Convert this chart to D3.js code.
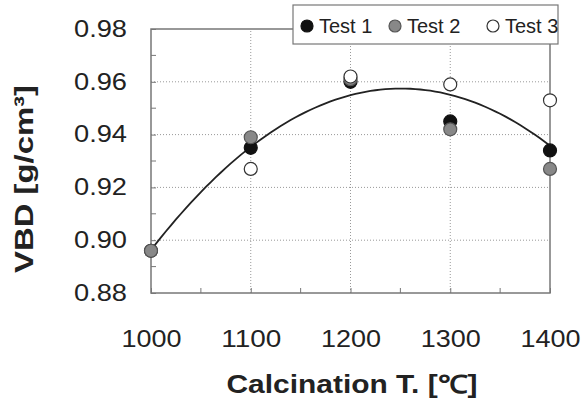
<!DOCTYPE html>
<html>
<head>
<meta charset="utf-8">
<script src="https://cdn.jsdelivr.net/npm/d3@7"></script>
<style>
  body { margin: 0; background: #fff; }
  text { font-family: "Liberation Sans", Arial, sans-serif; fill: #222; }
</style>
</head>
<body>
<div id="viz-container"></div>
<script>
// temperatures and the three test series (VBD, g/cm3)
let temps = [1000, 1100, 1200, 1300, 1400];
let test1 = [0.896, 0.935, 0.960, 0.945, 0.934];
let test2 = [0.896, 0.939, 0.961, 0.942, 0.927];
let test3 = [null, 0.927, 0.962, 0.959, 0.953];
let seriesNames = ["Test 1", "Test 2", "Test 3"];
let yTicks = [0.88, 0.90, 0.92, 0.94, 0.96, 0.98];
let yMinor = [0.89, 0.91, 0.93, 0.95, 0.97];
let xMinor = [1050, 1150, 1250, 1350];

let W = 585, H = 401;
let margin = {left: 151, right: 35, top: 29, bottom: 108};

let viz = d3.select("#viz-container")
              .append("svg")
                .attr("width", W)
                .attr("height", H)
;

let x = d3.scaleLinear().domain([1000, 1400]).range([margin.left, W - margin.right]);
let y = d3.scaleLinear().domain([0.88, 0.98]).range([H - margin.bottom, margin.top]);

// dotted grid
viz.selectAll(".vgrid").data(temps.slice(1, -1)).enter().append("line")
    .attr("x1", d => x(d)).attr("x2", d => x(d))
    .attr("y1", y(0.88)).attr("y2", y(0.98))
    .attr("stroke", "#999").attr("stroke-dasharray", "1,2");
viz.selectAll(".hgrid").data(yTicks.slice(1, -1)).enter().append("line")
    .attr("x1", x(1000)).attr("x2", x(1400))
    .attr("y1", d => y(d)).attr("y2", d => y(d))
    .attr("stroke", "#999").attr("stroke-dasharray", "1,2");

// frame
viz.append("rect")
    .attr("x", x(1000)).attr("y", y(0.98))
    .attr("width", x(1400) - x(1000)).attr("height", y(0.88) - y(0.98))
    .attr("fill", "none").attr("stroke", "#777").attr("stroke-width", 1.5);

// axes, ticks pointing in
let yAxis = viz.append("g").attr("transform", `translate(${x(1000)},0)`)
    .call(d3.axisLeft(y).tickValues(yTicks).tickFormat(d3.format(".2f")).tickSize(-5).tickPadding(24));
let xAxis = viz.append("g").attr("transform", `translate(0,${y(0.88)})`)
    .call(d3.axisBottom(x).tickValues(temps).tickFormat(d3.format("d")).tickSize(-5).tickPadding(38));
[yAxis, xAxis].forEach(a => {
  a.select(".domain").remove();
  a.selectAll("line").attr("stroke", "#777");
  a.selectAll("text").attr("font-size", 23).attr("fill", "#222")
    .attr("font-family", "Liberation Sans, Arial, sans-serif")
    .attr("lengthAdjust", "spacingAndGlyphs");
});
yAxis.selectAll("text").attr("textLength", 53);
xAxis.selectAll("text").attr("textLength", 60);

viz.selectAll(".ym").data(yMinor).enter().append("line")
    .attr("x1", x(1000)).attr("x2", x(1000) + 5)
    .attr("y1", d => y(d)).attr("y2", d => y(d)).attr("stroke", "#777");
viz.selectAll(".xm").data(xMinor).enter().append("line")
    .attr("x1", d => x(d)).attr("x2", d => x(d))
    .attr("y1", y(0.88)).attr("y2", y(0.88) - 5).attr("stroke", "#777");

// quadratic least-squares fit of all points
let pts = [];
[test1, test2, test3].forEach(s => s.forEach((v, i) => { if (v != null) pts.push([temps[i], v]); }));
function quadFit(p){
  let S = [0,0,0,0,0], T = [0,0,0];
  p.forEach(([tx, ty]) => {
    let t = (tx - 1200) / 100;
    for (let k = 0; k < 5; k++) S[k] += Math.pow(t, k);
    for (let k = 0; k < 3; k++) T[k] += ty * Math.pow(t, k);
  });
  let M = [[S[0],S[1],S[2],T[0]],[S[1],S[2],S[3],T[1]],[S[2],S[3],S[4],T[2]]];
  for (let c = 0; c < 3; c++) {
    for (let r = c + 1; r < 3; r++) {
      let f = M[r][c] / M[c][c];
      for (let k = c; k < 4; k++) M[r][k] -= f * M[c][k];
    }
  }
  let co = [0,0,0];
  for (let r = 2; r >= 0; r--) {
    let s = M[r][3];
    for (let k = r + 1; k < 3; k++) s -= M[r][k] * co[k];
    co[r] = s / M[r][r];
  }
  return tx => { let t = (tx - 1200) / 100; return co[0] + co[1]*t + co[2]*t*t; };
}
let fit = quadFit(pts);
let curveX = d3.range(1000, 1401, 5);
viz.append("path")
    .datum(curveX)
    .attr("d", d3.line().x(d => x(d)).y(d => y(fit(d))))
    .attr("fill", "none").attr("stroke", "#222").attr("stroke-width", 1.8);

// markers
let fills = ["#111", "#888", "#fff"];
let strokes = ["#111", "#555", "#333"];
[test1, test2, test3].forEach((s, si) => {
  viz.selectAll(".m" + si).data(s.map((v, i) => [temps[i], v]).filter(d => d[1] != null))
    .enter().append("circle")
      .attr("cx", d => x(d[0])).attr("cy", d => y(d[1])).attr("r", 6.5)
      .attr("fill", fills[si]).attr("stroke", strokes[si]).attr("stroke-width", 1.2);
});

// legend
let lg = viz.append("g");
lg.append("rect").attr("x", 293).attr("y", 5).attr("width", 265).attr("height", 39)
    .attr("fill", "#fff").attr("stroke", "#777").attr("stroke-width", 1.2);
let legX = [307, 395, 493];
seriesNames.forEach((n, i) => {
  lg.append("circle").attr("cx", legX[i]).attr("cy", 26).attr("r", 6)
    .attr("fill", fills[i]).attr("stroke", strokes[i]).attr("stroke-width", 1.2);
  lg.append("text").attr("x", legX[i] + 12).attr("y", 33).attr("font-size", 20).text(n);
});

// axis titles
viz.append("text").attr("x", 352).attr("y", 393).attr("text-anchor", "middle")
    .attr("font-size", 25).attr("font-weight", "bold")
    .attr("textLength", 251).attr("lengthAdjust", "spacingAndGlyphs")
    .text("Calcination T. [℃]");
viz.append("text").attr("transform", "translate(33,179) rotate(-90)").attr("text-anchor", "middle")
    .attr("font-size", 25).attr("font-weight", "bold")
    .attr("textLength", 188).attr("lengthAdjust", "spacingAndGlyphs")
    .text("VBD [g/cm³]");
</script>
</body>
</html>
